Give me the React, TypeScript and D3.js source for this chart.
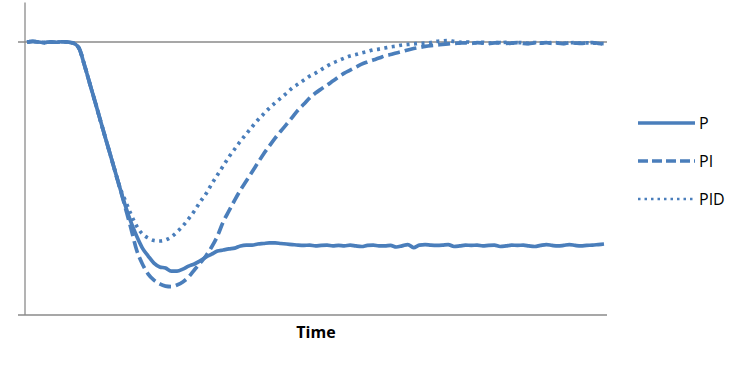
import * as d3 from 'd3';
import React from 'react';

// process value in % of setpoint, one sample per time step
const BASE = [100, 100.2, 100, 99.8, 100, 99.9, 100.1, 100, 99.6, 97.8, 91.2, 83.9, 76.6, 69.2, 61.9, 54.6, 47.3];

const P = [
  ...BASE,
  40.3, 34.1, 28.9, 24.5, 21.6, 19.0, 17.6, 17.2, 16.1, 16.1, 16.8, 17.9, 18.7, 19.8, 21.2, 22.3, 23.4, 23.8, 24.2, 24.5,
  25.3, 25.6, 25.6, 26.0, 26.2, 26.4, 26.4, 26.2, 26.0,
  25.8, 25.6, 25.5, 25.6, 25.3, 25.5, 25.6, 25.3, 25.5, 25.3,
  25.6, 25.3, 25.1, 25.5, 25.6, 25.3, 25.3, 25.5, 24.9, 25.3,
  25.8, 24.7, 25.6, 25.8, 25.6, 25.5, 25.6, 25.8, 25.1, 25.3,
  25.6, 25.5, 25.6, 25.3, 25.5, 25.6, 25.1, 25.3, 25.6, 25.5,
  25.6, 25.3, 25.1, 25.5, 25.8, 25.5, 25.3, 25.5, 25.8, 25.5,
  25.3, 25.5, 25.6, 25.8, 26.0,
];

const PI = [
  ...BASE,
  39.6, 31.9, 23.8, 18.7, 15.0, 12.8, 11.4, 10.6, 10.4, 11.0, 12.1, 13.9, 16.5, 19.0, 21.6, 24.9, 28.9, 34.1, 38.1, 42.1,
  45.8, 49.1, 52.4, 55.7, 59.0, 61.9, 64.8, 67.4, 69.9, 72.5, 75.1, 77.3, 79.5, 81.3, 82.8, 84.2, 85.7, 87.2, 88.6, 89.7,
  90.8, 91.9, 92.7, 93.4, 94.1, 94.9, 95.4, 96.0, 96.5, 97.1, 97.6, 98.0, 98.4, 98.7, 98.9, 99.1, 99.3, 99.5, 99.6,
  99.7, 99.5, 99.8, 99.6, 99.4, 99.7, 99.8, 99.5, 99.6, 99.8, 99.5, 99.4, 99.7, 99.6, 99.8,
  99.5, 99.6, 99.4, 99.7, 99.6, 99.5, 99.7, 99.8, 99.5, 99.2,
];

const PID = [
  ...BASE,
  42.1, 37.0, 32.6, 29.7, 28.2, 27.3, 27.1, 27.5, 28.6, 30.4, 32.6, 35.2, 38.1, 41.4, 44.3, 48.0, 51.3, 54.6, 57.9, 60.8,
  63.7, 66.3, 68.9, 71.4, 73.6, 75.8, 77.7, 79.5, 81.3, 83.2, 84.6, 86.1, 87.5, 88.6, 89.9, 91.2, 92.3, 93.2, 94.1, 94.9,
  95.4, 96.0, 96.5, 97.1, 97.4, 97.8, 98.2, 98.5, 98.9, 99.1, 99.3, 99.5, 99.6, 99.8,
  100.2, 100.4, 100.5, 100.2, 99.9, 100.1, 99.8, 99.7, 99.9, 99.6, 99.8, 99.7, 99.9, 99.6, 99.8,
  99.7, 99.5, 99.8, 99.7, 99.6, 99.8, 99.7, 99.5, 99.7, 99.8, 99.6, 99.7, 99.6, 99.5, 99.4,
];

const SERIES = [
  { name: 'P', values: P, dash: 'none', legendDash: 'none', legendWidth: 3.5 },
  { name: 'PI', values: PI, dash: '12 5', legendDash: '10 4', legendWidth: 3.5 },
  { name: 'PID', values: PID, dash: '3 4.5', legendDash: '2.5 4', legendWidth: 2.5 },
];

const SETPOINT = 100;
const X_LABEL = 'Time';

const W = 750;
const H = 372;
const COLOR = '#4a7ebb';
const AXIS = '#8a8a8a';

export default function App() {
  const n = P.length - 1;
  const x = d3.scaleLinear().domain([0, n]).range([27, 604]);
  const y = d3.scaleLinear().domain([0, 100]).range([315, 42]);
  const line = d3
    .line<number>()
    .x((_, i) => x(i))
    .y((d) => y(d))
    .curve(d3.curveMonotoneX);

  return (
    <svg width={W} height={H} style={{ position: 'absolute', left: 0, top: 0 }} fontFamily="'Open Sans', sans-serif">
      <rect width={W} height={H} fill="#fff" />
      {/* axes */}
      <line x1={25} x2={25} y1={y(0)} y2={y(114.5)} stroke={AXIS} strokeWidth={1.3} />
      <line x1={18} x2={607} y1={y(0)} y2={y(0)} stroke={AXIS} strokeWidth={1.3} />
      <line x1={18} x2={607} y1={y(SETPOINT)} y2={y(SETPOINT)} stroke={AXIS} strokeWidth={1.3} />

      {SERIES.map((s) => (
        <path
          key={s.name}
          d={line(s.values) ?? ''}
          fill="none"
          stroke={COLOR}
          strokeWidth={3.7}
          strokeDasharray={s.dash}
          strokeLinejoin="round"
        />
      ))}

      <text x={316} y={338} textAnchor="middle" fontSize={16} fontWeight="bold" fill="#000">
        {X_LABEL}
      </text>

      {SERIES.map((s, i) => {
        const ly = 123 + i * 38;
        return (
          <g key={s.name}>
            <line x1={638} x2={695} y1={ly} y2={ly} stroke={COLOR} strokeWidth={s.legendWidth} strokeDasharray={s.legendDash} />
            <text x={699} y={ly + 5.5} fontSize={16} fill="#000">
              {s.name}
            </text>
          </g>
        );
      })}
    </svg>
  );
}
